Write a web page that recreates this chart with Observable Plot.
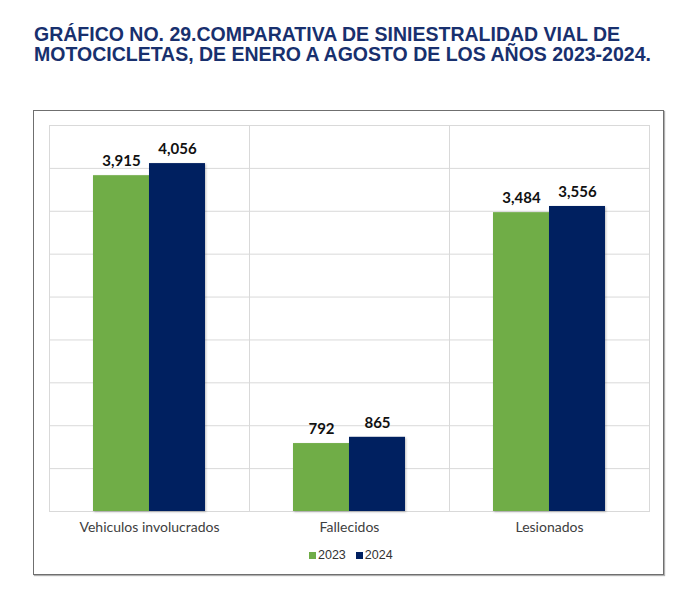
<!DOCTYPE html>
<html>
<head>
<meta charset="utf-8">
<script src="https://cdn.jsdelivr.net/npm/d3@7"></script>
<script src="https://cdn.jsdelivr.net/npm/@observablehq/plot@0.6"></script>
<style>
  html, body { margin: 0; padding: 0; background: #fff; width: 695px; height: 596px; overflow: hidden; }
  #title { position: absolute; left: 34px; top: 24px; font-family: "Liberation Sans", Arial, sans-serif; font-weight: bold; font-size: 19.5px; line-height: 20px; color: #18306e; white-space: nowrap; }
  #box { position: absolute; left: 33px; top: 110px; width: 631px; height: 465px; box-sizing: border-box; border: 1px solid #6f6f6f; box-shadow: 1px 1px 1px #b0b0b0; }
  #chart { position: absolute; left: 0; top: 0; }
  #legend { position: absolute; left: 309px; top: 548px; font-family: "Liberation Sans", Arial, sans-serif; font-size: 12.5px; color: #333; display: flex; align-items: center; }
  .sw { display: inline-block; width: 7px; height: 7px; margin-right: 2px; }
  .item { display: flex; align-items: center; margin-right: 10px; }
  g[aria-label="bar"] rect { filter: drop-shadow(1px 1px 1px rgba(0,0,0,0.25)); }
</style>
</head>
<body>
<div id="title">GRÁFICO NO. 29.COMPARATIVA DE SINIESTRALIDAD VIAL DE<br>MOTOCICLETAS, DE ENERO A AGOSTO DE LOS AÑOS 2023-2024.</div>
<div id="box"><div id="chart"></div></div>
<div id="legend"></div>
<script>
const categories = ["Vehiculos involucrados", "Fallecidos", "Lesionados"];
const years = ["2023", "2024"];
const values2023 = [3915, 792, 3484];
const values2024 = [4056, 865, 3556];
const yTicks = [0, 500, 1000, 1500, 2000, 2500, 3000, 3500, 4000, 4500];
const colors = ["#70AD47", "#002060"];

const data = [];
categories.forEach((c, i) => {
  data.push({category: c, year: years[0], value: values2023[i]});
  data.push({category: c, year: years[1], value: values2024[i]});
});

const chart = Plot.plot({
  width: 629,
  height: 430,
  marginLeft: 14,
  marginRight: 14,
  marginTop: 14,
  marginBottom: 30,
  style: {fontFamily: "Lato, sans-serif", fontSize: "14px", color: "#404040", background: "transparent"},
  fx: {domain: categories, padding: 0, axis: "bottom", tickSize: 0, tickPadding: 11, label: null},
  x: {domain: years, paddingInner: 0, paddingOuter: 0.755, axis: null},
  y: {domain: [0, 4500], axis: null},
  color: {domain: years, range: colors},
  marks: [
    Plot.ruleY(yTicks, {stroke: "#d9d9d9", strokeWidth: 1}),
    Plot.frame({stroke: "#d9d9d9", strokeWidth: 1}),
    Plot.barY(data, {fx: "category", x: "year", y: "value", fill: "year"}),
    Plot.text(data, {fx: "category", x: "year", y: "value", text: d => d3.format(",")(d.value), dy: -14, fill: "#111", fontWeight: "bold", fontSize: 15})
  ]
});
document.getElementById("chart").appendChild(chart);

const leg = document.getElementById("legend");
years.forEach((y, i) => {
  const it = document.createElement("span");
  it.className = "item";
  it.innerHTML = `<span class="sw" style="background:${colors[i]}"></span>${y}`;
  leg.appendChild(it);
});
</script>
</body>
</html>
